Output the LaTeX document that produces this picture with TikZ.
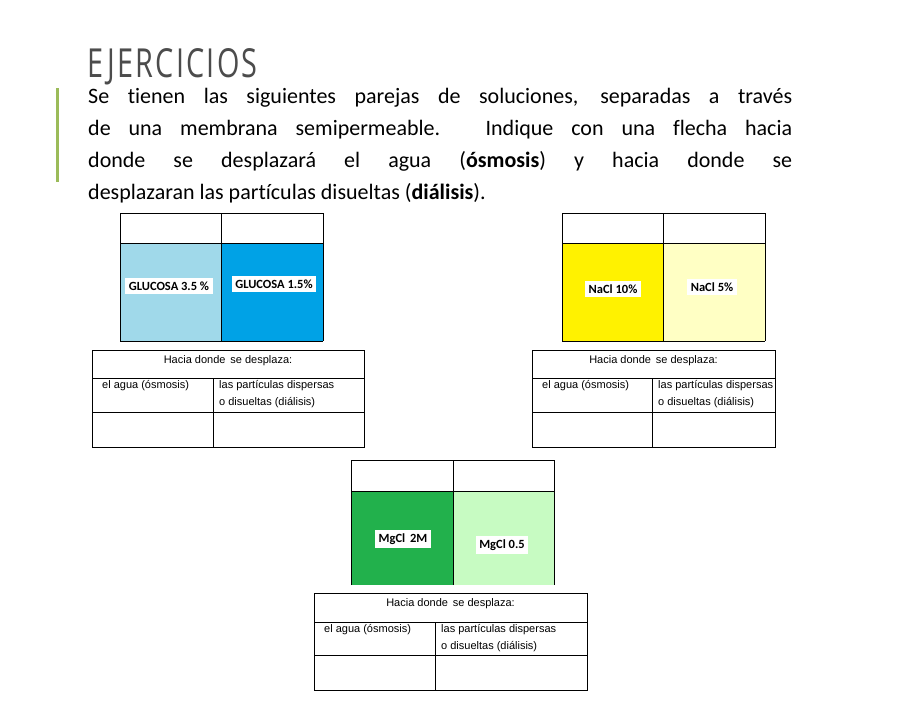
\documentclass[tikz,border=0pt]{standalone}
\usepackage{fontspec}
\setmainfont[Ligatures={NoCommon}]{Carlito}
\newfontfamily\arialf{Liberation Sans}
\newfontfamily\titlef[LetterSpace=8]{Open Sans}
\definecolor{lblue}{HTML}{A0D9EA}
\definecolor{dblue}{HTML}{00A2E6}
\definecolor{yel}{HTML}{FFF200}
\definecolor{pyel}{HTML}{FFFFC4}
\definecolor{dgreen}{HTML}{22B14C}
\definecolor{lgreen}{HTML}{C7FBC2}
\definecolor{barg}{HTML}{9BBB59}
\tikzset{
 lab/.style={fill=white,font=\bfseries\fontsize{12.5}{14}\selectfont,inner sep=3.5pt},
 tt/.style={font=\arialf\fontsize{11}{17}\selectfont,align=left,anchor=north west,inner sep=0pt},
}
\newcommand{\beaker}[8]{% x0 xm x1 ytop yfl ybot colL colR
 \fill[#7] (#1,#5) rectangle (#2,#6);
 \fill[#8] (#2,#5) rectangle (#3,#6);
 \draw (#1,#6) -- (#1,#4) -- (#3,#4) -- (#3,#6) (#1,#5) -- (#3,#5) (#2,#4) -- (#2,#6);
 \draw (#1,#6) -- (#3,#6);
}
\newcommand{\tabla}[7]{% x0 xs x1 y0 y1 y2 y3
 \draw (#1,#4) rectangle (#3,#7);
 \draw (#1,#5) -- (#3,#5) (#1,#6) -- (#3,#6) (#2,#5) -- (#2,#7);
 \node[font=\arialf\fontsize{11}{14}\selectfont] at ({(#1+#3)/2},{#4+11}) {Hacia donde\, se desplaza:};
 \node[tt] at ({#1+10},{#5+2}) {el agua (ósmosis)};
 \node[tt] at ({#2+6},{#5+2}) {las partículas dispersas\\o disueltas (diálisis)};
}
\begin{document}
\begin{tikzpicture}[x=1pt,y=-1pt]
\useasboundingbox[fill=white] (0,0) rectangle (907,720);
\fill[barg] (56,88) rectangle (58.5,182);
\node[anchor=base west,inner sep=0pt,text=black!70,xscale=0.72,font=\titlef\fontsize{40}{40}\selectfont] (t) at (87,77) {EJERCICIOS};
\node[anchor=north west,inner sep=0pt,text width=704pt,align=justify,font=\fontsize{22}{32}\selectfont] (p) at (88,88)
 {\hyphenpenalty=10000 Se tienen las siguientes parejas de soluciones, separadas a través\linebreak de una membrana semipermeable. Indique con una flecha hacia\linebreak donde se desplazará el agua (\textbf{ósmosis}) y hacia donde se\linebreak desplazaran las partículas disueltas (\textbf{diálisis}).};
% beaker 1
\beaker{120}{221}{323}{213}{243}{341}{lblue}{dblue}
\node[lab] (g1) at (169,286) {GLUCOSA 3.5 \%};
\node[lab] (g2) at (274,284) {GLUCOSA 1.5\%};
\tabla{92}{213}{364}{350}{378}{412}{447}
% beaker 2
\beaker{562}{663}{765}{213}{243}{341}{yel}{pyel}
\node[lab] (n1) at (613,289) {NaCl 10\%};
\node[lab] (n2) at (712,287) {NaCl 5\%};
\tabla{532}{652}{775}{350}{378}{412}{447}
% beaker 3
\fill[dgreen] (351,491) rectangle (453,585);
\fill[lgreen] (453,491) rectangle (554,585);
\draw (351,585) -- (351,460) -- (554,460) -- (554,585) (351,491) -- (554,491) (453,460) -- (453,585);
\node[lab] (m1) at (403,539) {MgCl\, 2M};
\node[lab] (m2) at (502,545) {MgCl 0.5};
\tabla{314}{435}{587}{593}{622}{655}{690}
\end{tikzpicture}
\end{document}
